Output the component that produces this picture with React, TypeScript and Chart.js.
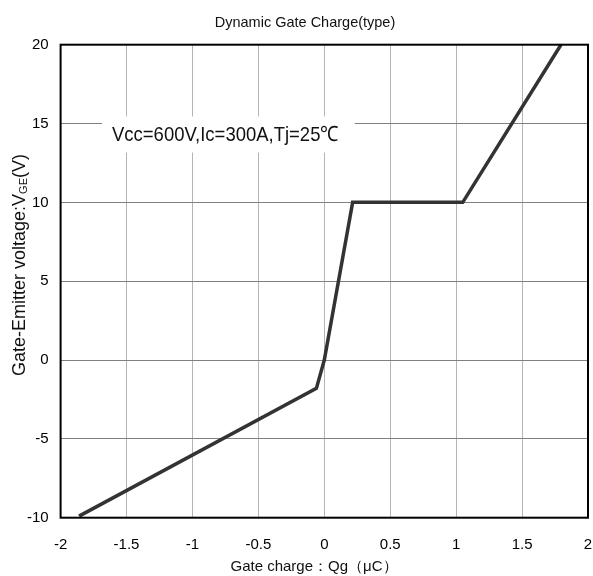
import React, { useEffect, useRef } from "react";
import { Chart, registerables } from "chart.js";

Chart.register(...registerables);

const chargeQg: number[] = [-1.86, -0.06, 0, 0.215, 1.05, 1.795];
const voltageVge: number[] = [-9.9, -1.8, 0, 10, 10, 20];

const xTicksMin = -2;
const xTicksMax = 2;
const xStep = 0.5;
const yTicksMin = -10;
const yTicksMax = 20;
const yStep = 5;

const titleText = "Dynamic Gate Charge(type)";
const xTitle = "Gate charge：Qg（μC）";
const yTitleMain = "Gate-Emitter voltage:V";
const yTitleSub = "GE";
const yTitleEnd = "(V)";
const noteText = "Vcc=600V,Ic=300A,Tj=25℃";

const FONT = '"Liberation Sans", Arial, Helvetica, sans-serif';

const W = 593;
const H = 576;

const textPlugin = {
  id: "textPlugin",
  beforeDatasetsDraw(chart: any) {
    const ctx = chart.ctx as CanvasRenderingContext2D;
    const xs = chart.scales.x;
    const ys = chart.scales.y;
    const bx0 = xs.getPixelForValue(-1.686);
    const bx1 = xs.getPixelForValue(0.231);
    const by0 = ys.getPixelForValue(15.45);
    const by1 = ys.getPixelForValue(13.16);
    ctx.save();
    ctx.fillStyle = "#ffffff";
    ctx.fillRect(bx0, by0, bx1 - bx0, by1 - by0);
    const tx = xs.getPixelForValue(-1.61);
    const ty = ys.getPixelForValue(13.88);
    ctx.translate(tx, ty);
    ctx.scale(0.88, 1);
    ctx.font = `21px ${FONT}`;
    ctx.fillStyle = "#111";
    ctx.textBaseline = "alphabetic";
    ctx.textAlign = "left";
    ctx.fillText(noteText, 0, 0);
    ctx.restore();
  },
  afterDraw(chart: any) {
    const ctx = chart.ctx as CanvasRenderingContext2D;
    const a = chart.chartArea;
    ctx.save();
    ctx.strokeStyle = "#000";
    ctx.lineWidth = 2;
    ctx.strokeRect(a.left, a.top, a.right - a.left, a.bottom - a.top);
    ctx.fillStyle = "#111";
    ctx.font = `14.5px ${FONT}`;
    ctx.textAlign = "center";
    ctx.textBaseline = "alphabetic";
    ctx.fillText(titleText, 305, 26.5);
    ctx.font = `15px ${FONT}`;
    ctx.fillText(xTitle, 314, 571);
    ctx.translate(25, 265);
    ctx.rotate(-Math.PI / 2);
    ctx.textAlign = "left";
    ctx.font = `18px ${FONT}`;
    const w1 = ctx.measureText(yTitleMain).width;
    const w3 = ctx.measureText(yTitleEnd).width;
    ctx.font = `11px ${FONT}`;
    const w2 = ctx.measureText(yTitleSub).width;
    const total = w1 + w2 + w3;
    let x = -total / 2;
    ctx.font = `18px ${FONT}`;
    ctx.fillText(yTitleMain, x, 0);
    x += w1;
    ctx.font = `11px ${FONT}`;
    ctx.fillText(yTitleSub, x, 2);
    x += w2;
    ctx.font = `18px ${FONT}`;
    ctx.fillText(yTitleEnd, x, 0);
    ctx.restore();
  },
};

export default function App() {
  const ref = useRef<HTMLCanvasElement | null>(null);
  useEffect(() => {
    if (!ref.current) return;
    const chart = new Chart(ref.current, {
      type: "line",
      data: {
        datasets: [
          {
            data: chargeQg.map((q, i) => ({ x: q, y: voltageVge[i] })),
            borderColor: "#333333",
            borderWidth: 3.5,
            pointRadius: 0,
            tension: 0,
            fill: false,
          },
        ],
      },
      options: {
        animation: false,
        responsive: false,
        devicePixelRatio: 1,
        layout: { padding: { top: 44.7, right: 5, bottom: 0, left: 0 } },
        plugins: {
          legend: { display: false },
          tooltip: { enabled: false },
          title: { display: false },
        },
        scales: {
          x: {
            type: "linear",
            min: xTicksMin,
            max: xTicksMax,
            border: { display: false },
            grid: { color: "#b4b4b4", lineWidth: 1, drawTicks: false },
            ticks: {
              stepSize: xStep,
              color: "#000",
              font: { family: FONT, size: 15 },
              padding: 18,
              maxRotation: 0,
              callback: (v: any) => String(Number(v)),
            },
            afterFit: (s: any) => {
              s.height = 58.3;
              s.paddingLeft = 0;
              s.paddingRight = 0;
            },
          },
          y: {
            type: "linear",
            min: yTicksMin,
            max: yTicksMax,
            border: { display: false },
            grid: { color: "#808080", lineWidth: 1, drawTicks: false },
            ticks: {
              stepSize: yStep,
              color: "#000",
              font: { family: FONT, size: 15 },
              padding: 12,
              callback: (v: any) => String(Number(v)),
            },
            afterFit: (s: any) => {
              s.width = 60.6;
              s.paddingTop = 0;
              s.paddingBottom = 0;
            },
          },
        },
      },
      plugins: [textPlugin],
    });
    return () => chart.destroy();
  }, []);
  return (
    <div style={{ position: "absolute", left: 0, top: 0, width: W, height: H, background: "#fff" }}>
      <canvas ref={ref} width={W} height={H} style={{ width: W, height: H, display: "block" }} />
    </div>
  );
}
